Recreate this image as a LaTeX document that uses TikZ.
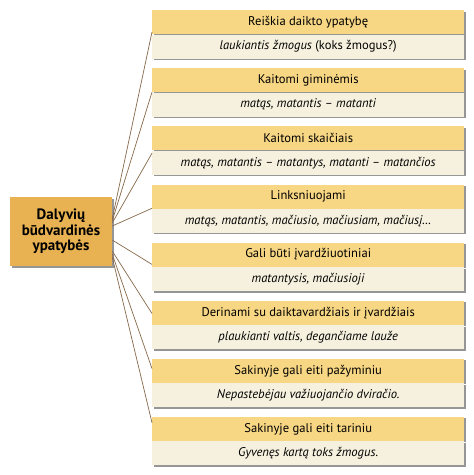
\documentclass[tikz,border=0pt]{standalone}
\usepackage{fontspec}
\setmainfont{PT Sans}
\usetikzlibrary{calc,shadows}
\definecolor{hdr}{RGB}{247,214,132}
\definecolor{bdy}{RGB}{246,241,222}
\definecolor{mainc}{RGB}{232,178,82}
\definecolor{shd}{RGB}{150,150,150}
\definecolor{lnc}{RGB}{135,105,75}
\tikzset{
 shd/.style={drop shadow={shadow xshift=1.5pt, shadow yshift=-1.5pt, fill=shd, opacity=1}},
 hbox/.style={shd, fill=hdr, minimum width=312pt, minimum height=24pt, inner sep=0pt, anchor=north west, font=\fontsize{12.6}{14}\selectfont},
 bbox/.style={shd, fill=bdy, minimum width=312pt, minimum height=24pt, inner sep=0pt, anchor=north west, font=\fontsize{12.6}{14}\selectfont},
 mbox/.style={shd, fill=mainc, minimum width=102pt, minimum height=69pt, inner sep=0pt, align=center, font=\fontsize{15}{15.5}\selectfont\bfseries},
 conn/.style={draw=lnc, line width=0.7pt},
}
\begin{document}
\begin{tikzpicture}[x=1pt,y=1pt]
\useasboundingbox[fill=white] (0,0) rectangle (474,-475);
\node[mbox] (m) at (61,-231.5) {Dalyvių\\būdvardinės\\ypatybės};
\foreach \i/\h/\b in {
 0/{Reiškia daikto ypatybę}/{\textit{laukiantis žmogus} (koks žmogus?)},
 1/{Kaitomi giminėmis}/{\textit{matąs, matantis – matanti}},
 2/{Kaitomi skaičiais}/{\textit{matąs, matantis – matantys, matanti – matančios}},
 3/{Linksniuojami}/{\textit{matąs, matantis, mačiusio, mačiusiam, mačiusį…}},
 4/{Gali būti įvardžiuotiniai}/{\textit{matantysis, mačiusioji}},
 5/{Derinami su daiktavardžiais ir įvardžiais}/{\textit{plaukianti valtis, degančiame lauže}},
 6/{Sakinyje gali eiti pažyminiu}/{\textit{Nepastebėjau važiuojančio dviračio.}},
 7/{Sakinyje gali eiti tariniu}/{\textit{Gyvenęs kartą toks žmogus.}}}{
 \node[hbox] (h\i) at (152,{-10-58.1*\i}) {\h};
 \node[bbox] (b\i) at (h\i.south west) {\b};
}
\foreach \i/\s/\e in {0/-12.5/22, 1/-10.5/24, 2/-8.5/27, 3/-5.5/24, 4/8.5/22, 5/19.5/13, 6/22.5/10, 7/25.5/6}{
 \draw[conn] ([yshift={-\s}]m.east) -- ([yshift={-\e}]h\i.north west);
}
\end{tikzpicture}
\end{document}
